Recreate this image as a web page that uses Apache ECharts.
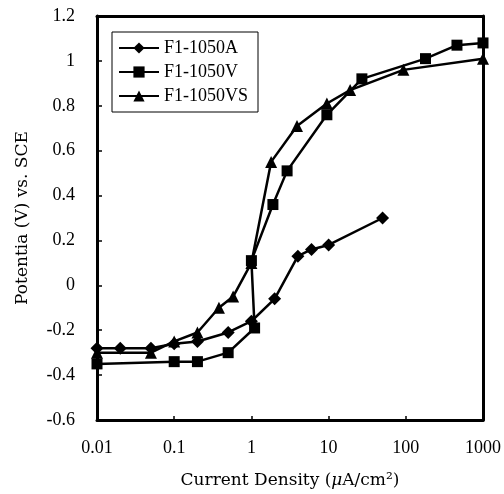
<!DOCTYPE html>
<html>
<head>
<meta charset="utf-8">
<script src="https://cdn.jsdelivr.net/npm/echarts@6/dist/echarts.min.js"></script>
<style>html,body{margin:0;padding:0;background:#fff;}#c{width:504px;height:494px;}</style>
</head>
<body>
<div id="c"></div>
<script>
const seriesNames = ['F1-1050A', 'F1-1050V', 'F1-1050VS'];
const xA  = [0.01, 0.02, 0.05, 0.1, 0.2, 0.5, 1, 2, 4, 6, 10, 50];
const yA  = [-0.28, -0.28, -0.28, -0.26, -0.25, -0.21, -0.16, -0.06, 0.13, 0.16, 0.18, 0.30];
const xV  = [0.01, 0.1, 0.2, 0.5, 1.1, 1, 1.9, 2.9, 9.5, 27, 180, 460, 1000];
const yV  = [-0.35, -0.34, -0.34, -0.30, -0.19, 0.11, 0.36, 0.51, 0.76, 0.92, 1.01, 1.07, 1.08];
const xVS = [0.01, 0.05, 0.1, 0.2, 0.38, 0.58, 1, 1.8, 3.9, 9.5, 19, 93, 1000];
const yVS = [-0.30, -0.30, -0.25, -0.21, -0.10, -0.05, 0.10, 0.55, 0.71, 0.81, 0.87, 0.96, 1.01];
const xTicks = ['0.01', '0.1', '1', '10', '100', '1000'];
const yMin = -0.6, yMax = 1.2, yStep = 0.2;
const xMin = 0.01, xMax = 1000;

const font = '"Liberation Serif", "DejaVu Serif", serif';
const nameFont = '"DejaVu Serif", "Liberation Serif", serif';
const pairs = (xs, ys) => xs.map((x, i) => [x, ys[i]]);

const chart = echarts.init(document.getElementById('c'));
const common = {
  type: 'line', color: '#000',
  lineStyle: { color: '#000', width: 2.5 },
  itemStyle: { color: '#000' },
  showAllSymbol: true, clip: false, animation: false,
  xAxisIndex: 0, yAxisIndex: 0
};
const frameLine = { show: true, onZero: false, lineStyle: { color: '#000', width: 3 } };
chart.setOption({
  animation: false,
  backgroundColor: '#fff',
  grid: {
    left: 97, right: 21, top: 16, bottom: 74,
    containLabel: false, outerBoundsMode: 'none'
  },
  legend: {
    orient: 'vertical', left: 112, top: 32,
    data: seriesNames,
    borderColor: '#000', borderWidth: 1, backgroundColor: '#fff',
    padding: [7, 10, 7, 6], itemGap: 6, itemWidth: 40, itemHeight: 14,
    textStyle: { fontFamily: font, fontSize: 18, color: '#000' }
  },
  xAxis: [{
    type: 'log', logBase: 10, min: xMin, max: xMax, position: 'bottom',
    name: '{a|Current Density (}{m|μ}{a|A/cm²)}',
    nameLocation: 'middle', nameGap: 52, nameMoveOverlap: false,
    nameTextStyle: {
      rich: {
        a: { fontFamily: nameFont, fontSize: 17, color: '#000' },
        m: { fontFamily: nameFont, fontSize: 17, fontStyle: 'italic', color: '#000' }
      }
    },
    axisLine: frameLine,
    axisTick: { show: true, inside: true, length: 4, lineStyle: { color: '#000', width: 1.5 } },
    minorTick: { show: false },
    splitLine: { show: false },
    axisLabel: {
      margin: 19, fontFamily: font, fontSize: 18, color: '#000',
      formatter: (v) => {
        const e = Math.round(Math.log10(v));
        return xTicks[e + 2] !== undefined ? xTicks[e + 2] : '';
      }
    }
  }, {
    type: 'log', logBase: 10, min: xMin, max: xMax, position: 'top',
    axisLine: frameLine, axisTick: { show: false }, axisLabel: { show: false },
    splitLine: { show: false }, minorTick: { show: false }
  }],
  yAxis: [{
    type: 'value', min: yMin, max: yMax, interval: yStep, position: 'left',
    name: 'Potentia (V) vs. SCE', nameLocation: 'middle', nameGap: 66, nameMoveOverlap: false,
    nameTextStyle: { fontFamily: nameFont, fontSize: 17, color: '#000' },
    axisLine: frameLine,
    axisTick: { show: true, inside: true, length: 5, lineStyle: { color: '#000', width: 1.5 } },
    splitLine: { show: false },
    axisLabel: {
      margin: 22, fontFamily: font, fontSize: 18, color: '#000',
      formatter: (v) => String(Number(v.toFixed(1)))
    }
  }, {
    type: 'value', min: yMin, max: yMax, interval: yStep, position: 'right',
    axisLine: frameLine, axisTick: { show: false }, axisLabel: { show: false },
    splitLine: { show: false }
  }],
  series: [
    Object.assign({}, common, { name: seriesNames[0], data: pairs(xA, yA), symbol: 'diamond', symbolSize: 13 }),
    Object.assign({}, common, { name: seriesNames[1], data: pairs(xV, yV), symbol: 'rect', symbolSize: 11 }),
    Object.assign({}, common, { name: seriesNames[2], data: pairs(xVS, yVS), symbol: 'triangle', symbolSize: 12 })
  ]
});
</script>
</body>
</html>
